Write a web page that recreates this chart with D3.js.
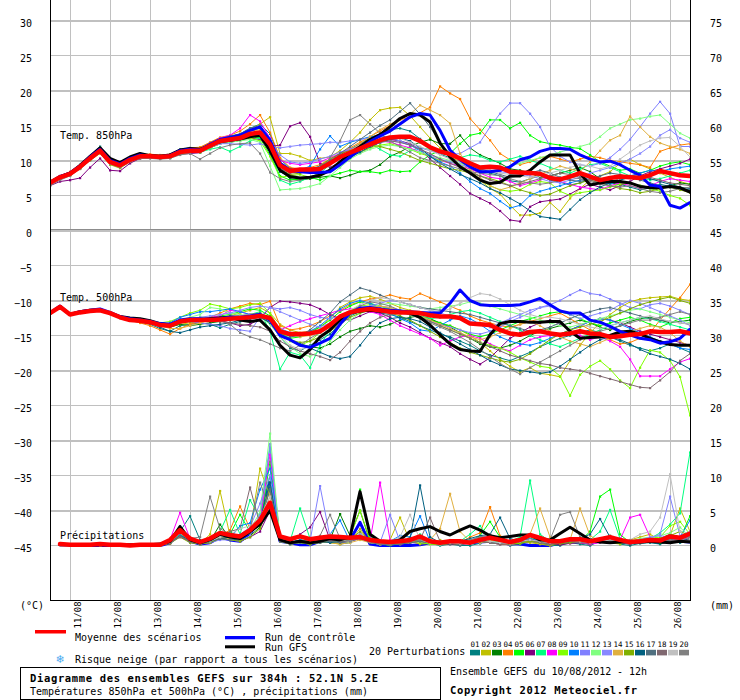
<!DOCTYPE html>
<html><head><meta charset="utf-8">
<script src="https://cdn.jsdelivr.net/npm/d3@7"></script>
<style>
body{margin:0;background:#fff}
svg{display:block}
text{font-family:'DejaVu Sans Mono','Liberation Mono',monospace;font-size:10px;fill:#000}
</style>
</head><body>
<svg id="c" width="740" height="700"></svg>
<script>
// ---------- labels ----------
const dayLabels = ["11/08","12/08","13/08","14/08","15/08","16/08","17/08","18/08","19/08","20/08","21/08","22/08","23/08","24/08","25/08","26/08"];
const leftTicks = [30,25,20,15,10,5,0,-5,-10,-15,-20,-25,-30,-35,-40,-45];
const rightTicks = [75,70,65,60,55,50,45,40,35,30,25,20,15,10,5,0];
const pertLabels = ["01","02","03","04","05","06","07","08","09","10","11","12","13","14","15","16","17","18","19","20"];
const pertColors = ["#008080","#c0c000","#008000","#ff8000","#00ff00","#800080","#00ff80","#ff00ff","#80ff00","#0080ff","#8080ff","#80ff80","#8888ff","#e0b040","#80b000","#006080","#507080","#806870","#c0c0c0","#808080"];
const stepHours = 6;

// ---------- Temp 850 hPa (°C), 6-hourly, 0..384h ----------
const t850_mean = [6.8,7.6,8.1,9.1,10.3,11.4,9.8,9.3,10.1,10.6, 10.6,10.5,10.6,11.2,11.4,11.4,12.1,12.8,13.0,13.2, 13.8,14.0,12.3,9.3,8.5,8.7,8.7,8.8,9.6,10.5, 11.1,11.7,12.3,12.9,13.3,13.4,13.4,12.8,11.9,11.3, 10.9,10.3,9.6,9.0,9.1,9.0,8.4,8.3,8.2,8.1, 7.5,7.3,7.7,8.2,7.7,7.2,7.5,7.7,7.6,7.5, 7.9,8.5,8.2,7.9,7.8];
const t850_ctrl = [6.8,7.7,8.2,9.2,10.5,11.6,10.0,9.5,10.3,10.8, 10.6,10.5,10.7,11.4,11.6,11.5,12.3,13.0,13.3,13.6, 14.3,14.8,12.9,9.6,8.6,8.4,8.3,8.3,8.4,9.4, 10.5,11.6,12.7,13.5,14.2,15.2,16.2,16.7,16.5,14.3, 11.5,10.1,9.1,8.4,8.4,8.6,9.1,10.1,10.5,11.3, 11.7,11.7,11.6,10.8,10.2,9.8,9.9,9.4,8.6,7.9, 6.5,6.3,3.6,3.2,4.0];
const t850_gfs = [6.9,7.7,8.2,9.3,10.6,11.8,10.3,9.7,10.5,11.0, 10.7,10.6,10.8,11.5,11.7,11.6,12.2,12.7,12.9,13.1, 13.4,13.6,11.4,8.6,7.7,7.5,7.6,7.9,8.6,9.8, 11.0,12.0,13.0,13.7,14.8,16.0,16.7,16.5,15.5,12.5, 10.5,9.1,8.2,7.2,6.7,6.9,7.8,7.8,8.6,9.8, 10.8,10.8,10.8,8.2,6.5,6.8,7.0,7.0,6.8,6.3, 6.1,6.1,6.3,6.1,5.5];
const t850_p01 = [6.9,7.7,8.3,9.4,10.6,12.0,10.2,9.6,10.4,10.8, 10.7,10.6,10.9,11.6,11.8,11.7,12.5,13.2,13.4,13.8, 14.6,15.2,13.8,10.2,8.9,8.6,8.8,9.0,9.9,10.8, 11.6,12.4,13.2,13.8,14.4,14.6,14.2,13.1,11.8,10.9, 10.4,9.8,9.2,8.6,8.2,7.8,7.1,6.9,7.4,7.8, 7.2,6.9,6.5,6.8,7.4,7.0,6.8,6.6,6.2,5.8, 6.1,6.6,6.3,5.9,5.6];
const t850_p02 = [6.6,7.4,7.9,8.8,10.0,11.0,9.4,8.9,9.8,10.3, 10.4,10.3,10.5,11.0,11.2,11.3,12.0,12.9,13.3,13.6, 14.4,15.2,16.2,11.0,11.0,10.6,10.0,10.3,10.5,11.4, 12.6,14.0,15.8,17.2,17.5,17.6,16.4,14.8,13.2,11.8, 10.6,9.8,8.6,7.2,6.0,5.2,3.6,2.2,2.2,2.5, 4.0,2.7,4.6,6.0,7.2,7.8,8.4,9.6,10.2,9.4, 8.8,8.2,7.6,7.0,6.6];
const t850_p03 = [6.7,7.5,8.0,8.9,10.2,11.2,9.7,9.2,10.0,10.5, 10.5,10.4,10.5,11.0,11.2,11.2,11.8,12.4,12.6,12.9, 13.4,13.3,11.6,8.6,7.4,7.2,7.4,7.6,7.8,7.5, 7.9,8.4,8.6,9.4,10.6,11.2,12.0,12.6,13.0,12.4, 12.4,13.6,11.8,10.8,10.2,9.6,8.8,8.6,8.2,7.6, 7.8,8.2,8.6,9.0,8.4,7.4,6.8,6.6,6.8,6.4, 6.2,6.0,6.4,6.8,6.6];
const t850_p04 = [6.9,7.8,8.4,9.3,10.6,11.8,10.1,9.6,10.4,10.9, 10.9,10.8,10.9,11.5,11.8,11.9,12.6,13.3,13.6,14.2, 15.2,16.5,14.0,10.4,9.0,8.8,9.0,9.4,10.2,11.0, 11.8,12.6,13.4,14.2,15.0,15.8,16.2,16.8,17.6,20.6, 19.6,18.8,16.0,14.4,12.9,11.0,10.1,9.4,9.8,10.4, 10.6,10.2,9.8,10.2,10.6,10.4,10.0,9.8,9.6,9.4, 9.0,11.3,11.8,12.2,12.4];
const t850_p05 = [6.7,7.5,8.0,9.0,10.2,11.3,9.7,9.2,10.0,10.5, 10.5,10.4,10.5,11.1,11.3,11.3,12.0,12.6,12.8,13.0, 13.4,13.2,10.8,7.8,7.2,7.4,7.6,7.2,7.8,8.2, 8.6,8.4,8.4,8.2,8.6,8.4,8.5,9.8,10.8,11.4, 11.0,12.4,13.6,13.9,15.8,15.8,14.6,15.4,13.6,12.7, 12.4,12.2,11.9,11.7,10.8,9.8,9.2,8.6,8.8,8.2, 8.6,9.2,9.6,9.8,9.4];
const t850_p06 = [6.4,7.0,7.2,7.5,9.0,10.3,8.6,8.5,9.6,10.3, 10.4,10.3,10.4,10.9,11.0,11.1,11.8,12.4,12.6,12.9, 13.2,13.0,12.0,12.2,14.9,15.4,13.4,9.6,9.0,9.8, 10.6,11.2,11.8,12.6,13.0,12.8,12.4,11.6,10.2,9.0, 7.8,6.6,5.3,4.6,3.9,2.8,1.5,1.3,3.4,4.1, 4.3,4.5,5.2,6.0,6.6,6.2,5.8,6.4,7.0,7.8, 8.4,8.8,9.2,9.6,10.2];
const t850_p07 = [6.8,7.6,8.1,9.0,10.2,11.2,9.7,9.2,10.0,10.5, 10.5,10.4,10.5,11.1,11.3,11.2,11.6,11.9,11.3,12.0, 12.8,13.2,12.0,7.2,6.6,7.0,7.6,8.2,9.4,10.4, 11.0,11.8,12.4,11.6,10.8,10.6,11.4,11.8,11.6,11.0, 10.8,10.4,10.8,10.6,10.0,9.8,10.2,10.6,10.0,9.6, 9.0,8.6,8.2,8.8,9.4,9.6,9.0,8.4,7.8,7.6, 7.2,7.4,7.8,8.2,8.6];
const t850_p08 = [7.0,7.8,8.3,9.3,10.5,11.6,10.0,9.5,10.3,10.8, 10.8,10.7,10.8,11.4,11.6,11.6,12.4,13.2,13.6,14.6, 16.5,15.6,13.2,10.0,9.6,9.4,9.6,9.8,10.4,11.0, 11.6,12.0,12.4,12.8,12.6,12.2,11.8,11.2,10.6,10.0, 9.6,9.2,8.8,8.2,7.6,7.4,7.0,6.4,6.8,7.2, 7.6,7.0,6.6,6.2,6.0,5.8,6.4,6.8,6.4,6.0, 6.4,7.0,7.4,7.2,7.0];
const t850_p09 = [6.6,7.4,7.9,8.9,10.1,11.1,9.5,9.0,9.9,10.4, 10.4,10.3,10.4,11.0,11.2,11.2,11.8,12.5,12.8,13.0, 13.2,12.8,10.6,7.6,7.8,8.0,7.6,7.8,8.8,9.8, 10.6,11.2,11.8,12.2,12.4,12.0,11.6,11.0,10.6,10.0, 9.8,9.4,8.4,7.2,6.4,5.8,5.6,5.8,6.6,7.0, 6.8,5.6,5.0,5.4,5.6,5.8,6.2,6.6,6.8,6.4, 6.0,5.6,5.0,4.6,3.6];
const t850_p10 = [6.8,7.6,8.2,9.2,10.4,11.5,9.9,9.4,10.2,10.7, 10.7,10.6,10.7,11.3,11.5,11.5,12.3,13.0,13.3,13.6, 14.2,14.6,11.0,8.8,8.4,8.6,9.2,11.6,13.5,12.0, 12.6,13.0,13.4,13.6,13.2,12.8,12.2,11.4,10.6,9.8, 9.2,8.2,7.0,6.0,5.3,4.2,3.2,3.6,5.0,5.6, 6.0,6.4,6.8,7.2,7.6,7.0,6.6,7.2,7.8,8.2, 8.6,8.4,8.8,9.0,9.2];
const t850_p11 = [6.9,7.7,8.2,9.2,10.4,11.4,9.9,9.4,10.2,10.6, 10.6,10.5,10.6,11.2,11.4,11.4,12.1,12.6,12.8,13.0, 13.6,13.8,12.6,10.8,9.8,9.6,9.8,10.2,10.6,11.2, 11.6,12.0,12.2,12.6,12.8,12.6,12.2,11.8,11.4,11.0, 10.8,11.0,11.8,12.6,14.8,16.7,18.2,18.2,16.7,14.8, 12.0,10.6,9.8,9.4,9.2,9.6,10.4,11.6,13.0,14.8, 16.7,18.4,16.7,12.0,12.0];
const t850_p12 = [6.7,7.5,8.0,9.0,10.2,11.2,9.6,9.1,9.9,10.4, 10.4,10.3,10.4,11.0,11.2,11.2,11.8,12.4,12.6,12.8, 13.0,12.6,9.2,5.8,5.9,6.0,6.3,6.7,7.8,9.0, 10.2,11.0,11.6,12.0,12.2,12.0,11.6,11.2,10.8,10.4, 10.0,9.6,9.2,8.8,8.4,8.8,9.2,9.6,10.0,10.4, 10.8,11.2,11.6,12.0,12.4,13.4,14.6,15.2,15.8,16.0, 16.3,16.5,15.2,13.9,13.2];
const t850_p13 = [6.8,7.6,8.1,9.1,10.3,11.3,9.8,9.3,10.1,10.5, 10.5,10.4,10.5,11.1,11.3,11.3,11.9,12.4,12.4,12.3, 12.2,12.4,12.0,11.8,12.0,12.2,12.3,12.4,12.6,12.6, 12.8,13.0,13.2,13.4,13.2,12.8,12.2,11.6,10.8,10.2, 9.8,9.4,9.0,8.8,8.6,8.4,8.2,8.0,7.8,7.4, 7.0,6.8,7.2,7.6,8.2,8.6,9.0,9.6,10.2,11.0, 12.0,13.6,14.4,13.2,12.6];
const t850_p14 = [6.9,7.7,8.2,9.2,10.4,11.5,9.9,9.4,10.2,10.7, 10.7,10.6,10.7,11.3,11.5,11.5,12.2,12.9,13.2,13.5, 14.2,14.4,12.4,9.4,8.6,8.4,8.6,8.8,9.4,10.4, 11.4,12.4,13.4,14.4,15.2,15.8,16.6,17.9,17.2,16.5, 15.3,11.0,8.8,7.6,6.4,5.8,6.2,6.8,7.4,8.0, 8.6,9.2,8.8,8.4,9.8,11.4,12.9,13.6,16.3,14.8, 13.4,12.5,12.0,11.6,11.0];
const t850_p15 = [6.6,7.4,7.9,8.9,10.1,11.1,9.5,9.0,9.9,10.4, 10.4,10.3,10.4,11.0,11.2,11.2,11.9,12.6,12.9,13.1, 13.6,13.6,11.8,8.8,8.0,8.2,8.6,9.2,10.2,11.0, 11.4,11.8,12.2,12.0,11.6,11.2,10.6,10.0,9.6,9.2, 8.8,8.6,8.2,7.8,7.4,7.0,6.4,5.8,5.4,5.0, 5.2,5.8,6.4,6.8,7.2,6.8,6.4,6.0,5.8,5.4, 5.6,6.0,6.2,5.8,5.4];
const t850_p16 = [6.8,7.6,8.1,9.1,10.3,11.4,9.8,9.3,10.1,10.6, 10.6,10.5,10.6,11.2,11.4,11.4,12.0,12.6,12.8,13.0, 13.4,13.6,11.2,8.4,7.6,7.4,7.6,8.0,8.8,9.6, 10.4,11.2,12.0,12.6,13.0,13.2,12.8,11.8,10.6,9.6, 8.8,8.0,7.4,6.8,6.0,5.4,4.6,3.8,2.8,2.0, 1.8,1.6,3.0,4.4,5.4,6.2,6.8,7.2,7.6,7.8, 7.4,7.0,6.6,6.2,6.0];
const t850_p17 = [6.9,7.8,8.3,9.3,10.5,11.7,10.1,9.6,10.4,10.8, 10.8,10.7,10.8,11.4,11.6,11.6,12.4,13.1,13.5,13.8, 14.6,15.0,12.8,9.8,8.8,8.6,8.8,9.2,10.0,11.0, 12.0,13.0,14.0,15.0,15.8,17.0,18.2,16.6,14.8,12.6, 11.0,10.2,9.4,8.8,8.4,8.0,7.6,7.8,8.2,8.6, 8.2,7.6,7.2,7.0,7.4,7.8,8.2,8.0,7.6,7.2, 6.8,6.4,6.2,6.0,5.8];
const t850_p18 = [6.7,7.5,8.0,9.0,10.2,11.3,9.7,9.2,10.0,10.5, 10.5,10.4,10.5,11.1,11.3,11.3,12.0,12.6,12.9,13.1, 13.6,13.8,11.6,8.8,8.2,8.4,8.6,9.0,9.8,10.6, 11.2,11.8,12.2,12.6,12.8,12.6,12.2,11.6,11.0,10.2, 9.6,9.0,8.4,7.8,7.2,6.8,6.4,6.6,7.0,7.4, 7.8,8.2,8.0,7.6,7.2,6.8,7.0,7.4,7.8,8.0, 7.6,7.2,6.8,6.6,6.4];
const t850_p19 = [6.8,7.6,8.1,9.1,10.3,11.4,9.8,9.3,10.1,10.6, 10.6,10.5,10.6,11.2,11.4,11.4,12.1,12.8,13.1,13.4, 13.9,14.2,12.2,9.0,8.4,8.6,8.8,9.0,9.6,10.4, 11.2,11.8,12.4,13.0,13.4,13.2,12.6,12.0,11.4,10.8, 10.2,9.8,9.4,9.0,8.6,8.2,8.0,7.8,7.6,7.8, 8.2,8.6,9.0,9.4,9.2,8.8,9.2,10.2,11.2,12.2, 12.8,13.2,13.3,12.0,10.5];
const t850_p20 = [6.4,7.2,7.8,8.8,10.0,11.1,9.5,9.0,9.8,10.3, 10.3,10.2,10.3,10.8,11.0,10.2,11.0,11.8,12.2,12.4, 12.5,11.0,8.3,7.4,7.0,7.2,7.6,8.2,10.4,12.8, 15.8,16.5,15.2,13.9,12.8,12.0,11.2,10.4,10.0,9.6, 9.2,8.8,8.4,8.2,8.0,7.8,7.4,7.0,6.8,6.6, 6.8,7.2,7.6,7.4,7.0,6.6,6.4,6.2,6.4,6.0, 5.6,5.4,5.6,6.0,6.2];

// ---------- Temp 500 hPa (°C) ----------
const t500_mean = [-11.8,-10.9,-12.0,-11.7,-11.5,-11.4,-11.8,-12.4,-12.8,-12.9, -13.1,-13.5,-13.6,-13.0,-12.8,-12.8,-12.8,-12.7,-12.6,-12.5, -12.4,-12.2,-12.5,-14.4,-14.8,-14.8,-14.7,-14.4,-13.5,-12.3, -11.7,-11.4,-11.2,-11.4,-11.6,-11.7,-11.7,-11.8,-12.1,-12.3, -12.3,-12.5,-13.3,-13.4,-13.5,-14.2,-14.7,-14.9,-14.5,-14.4, -14.7,-14.9,-14.7,-14.4,-14.7,-14.8,-15.2,-15.1,-14.9,-14.8, -14.4,-14.5,-14.5,-14.4,-14.7];
const t500_ctrl = [-11.8,-10.8,-12.0,-11.6,-11.4,-11.2,-11.7,-12.3,-12.6,-12.8, -13.0,-13.3,-13.4,-12.8,-12.6,-12.6,-12.7,-12.6,-12.4,-12.4, -12.2,-12.0,-12.8,-15.0,-15.6,-16.4,-16.7,-16.1,-15.4,-13.4, -11.8,-11.1,-11.0,-11.2,-11.4,-11.5,-11.6,-11.7,-11.8,-11.8, -10.4,-8.5,-10.0,-10.6,-10.7,-10.7,-10.7,-10.6,-10.2,-9.7, -10.6,-11.5,-11.8,-11.8,-12.8,-13.1,-13.7,-14.4,-14.9,-15.4, -15.6,-16.1,-15.9,-15.4,-14.1];
const t500_gfs = [-11.8,-10.9,-12.0,-11.6,-11.4,-11.3,-11.8,-12.3,-12.5,-12.6, -12.9,-13.3,-13.5,-13.0,-12.8,-12.8,-12.6,-12.5,-12.4,-12.8, -13.0,-12.8,-14.2,-16.4,-17.8,-18.2,-17.0,-15.2,-14.2,-12.8, -11.8,-11.5,-11.4,-11.5,-11.6,-11.6,-11.8,-12.4,-13.5,-14.9, -16.2,-17.0,-17.2,-17.3,-14.9,-13.3,-13.0,-13.0,-13.1,-13.1, -13.0,-13.0,-14.4,-15.4,-15.3,-15.2,-15.0,-14.5,-14.4,-14.8, -15.4,-15.9,-16.3,-16.4,-16.4];
const t500_p01 = [-11.8,-10.9,-12.0,-11.7,-11.5,-11.4,-11.9,-12.5,-12.9,-13.1, -13.4,-14.0,-14.4,-13.6,-13.4,-13.2,-13.4,-13.9,-13.4,-13.0, -12.6,-12.4,-13.0,-15.2,-16.8,-17.2,-16.4,-15.6,-14.8,-13.4, -12.2,-11.6,-11.4,-11.8,-12.0,-12.4,-13.0,-13.6,-14.2,-14.8, -15.2,-15.8,-16.4,-17.2,-17.8,-18.2,-18.6,-18.0,-17.4,-16.6, -16.0,-15.4,-15.0,-14.6,-14.2,-14.6,-15.2,-15.8,-16.4,-16.8, -17.2,-16.8,-16.2,-16.8,-17.4];
const t500_p02 = [-11.8,-10.9,-12.0,-11.7,-11.5,-11.3,-11.7,-12.4,-12.8,-12.9, -13.0,-13.4,-13.8,-13.4,-13.2,-13.0,-12.6,-12.4,-12.2,-11.8, -11.4,-11.0,-11.8,-13.4,-14.2,-14.6,-14.4,-13.8,-12.6,-11.0, -10.2,-9.6,-9.4,-9.8,-10.4,-11.0,-11.4,-11.8,-12.6,-13.4, -13.6,-14.2,-15.0,-16.0,-17.2,-18.4,-19.4,-20.2,-19.6,-20.4, -20.6,-20.9,-18.6,-16.4,-14.6,-13.2,-12.0,-11.0,-10.2,-9.8, -9.6,-9.5,-9.4,-9.8,-10.0];
const t500_p03 = [-11.8,-10.9,-12.0,-11.7,-11.5,-11.4,-11.8,-12.4,-12.8,-12.9, -13.1,-13.6,-13.8,-13.4,-13.6,-13.4,-13.2,-13.0,-12.8,-12.6, -12.4,-12.2,-13.2,-14.8,-15.6,-16.2,-16.6,-16.8,-16.2,-15.2, -14.4,-14.0,-13.6,-13.8,-13.4,-12.8,-12.4,-12.2,-12.6,-13.2, -13.8,-14.6,-15.4,-16.2,-16.6,-16.8,-16.4,-15.8,-15.0,-14.4, -14.0,-13.6,-13.2,-12.8,-13.2,-13.8,-14.2,-13.6,-13.0,-12.6, -12.4,-12.8,-13.2,-13.0,-12.8];
const t500_p04 = [-11.8,-10.9,-12.0,-11.7,-11.5,-11.4,-11.8,-12.4,-12.8,-13.2, -13.6,-14.2,-14.8,-14.0,-13.4,-13.0,-12.4,-11.8,-11.2,-10.8, -10.4,-10.6,-10.1,-13.6,-14.2,-14.0,-13.6,-13.0,-12.2,-11.4, -10.6,-10.2,-9.8,-9.6,-9.2,-9.6,-9.8,-9.0,-9.6,-10.2, -10.8,-11.4,-12.2,-12.8,-13.2,-13.6,-13.8,-13.4,-13.0,-12.6, -12.2,-11.8,-12.6,-13.4,-14.2,-15.0,-15.6,-16.2,-16.0,-15.4, -14.6,-12.8,-11.2,-9.6,-7.7];
const t500_p05 = [-11.8,-10.9,-12.0,-11.7,-11.5,-11.4,-11.8,-12.4,-12.8,-12.9, -13.1,-13.4,-13.4,-12.8,-12.6,-12.4,-12.4,-12.2,-12.0,-11.6, -11.2,-11.4,-12.2,-14.6,-15.4,-15.2,-14.6,-13.8,-12.8,-11.6, -10.8,-10.2,-10.4,-10.8,-11.2,-11.6,-12.0,-12.4,-12.8,-13.2, -13.6,-14.2,-14.8,-15.2,-14.8,-14.2,-13.6,-13.0,-12.6,-12.2, -11.8,-11.6,-12.0,-12.6,-13.2,-13.6,-13.2,-12.8,-12.4,-12.8, -13.4,-13.8,-13.2,-12.6,-12.4];
const t500_p06 = [-11.8,-10.9,-12.0,-11.7,-11.5,-11.4,-11.8,-12.4,-12.8,-12.9, -13.1,-13.5,-13.6,-13.0,-12.8,-12.8,-12.8,-12.9,-13.2,-13.6, -13.4,-12.6,-11.0,-10.1,-10.2,-10.4,-10.6,-11.2,-12.0,-12.6, -12.8,-12.2,-11.6,-11.8,-12.4,-13.2,-13.8,-14.6,-15.4,-16.0, -16.6,-17.6,-18.4,-19.1,-18.2,-16.8,-15.4,-14.6,-13.8,-13.2, -12.8,-13.4,-14.2,-13.6,-13.0,-12.6,-12.8,-13.2,-13.8,-14.4, -14.8,-15.2,-15.6,-16.0,-16.4];
const t500_p07 = [-11.8,-10.9,-12.0,-11.7,-11.5,-11.4,-11.8,-12.4,-12.8,-12.9, -13.0,-13.3,-13.4,-12.8,-12.6,-12.6,-12.8,-12.6,-12.4,-12.2, -12.0,-11.6,-14.4,-19.8,-17.4,-17.8,-19.6,-16.4,-14.2,-12.8, -11.8,-11.2,-11.0,-11.2,-11.4,-11.6,-11.8,-12.2,-12.6,-12.4, -12.0,-11.6,-11.4,-11.8,-12.4,-13.0,-13.6,-14.2,-15.0,-15.6, -16.2,-16.6,-16.0,-15.4,-14.8,-14.2,-13.6,-13.2,-12.8,-12.4, -12.6,-13.0,-13.4,-13.8,-14.2];
const t500_p08 = [-11.8,-10.9,-12.0,-11.7,-11.5,-11.4,-11.8,-12.4,-12.8,-12.9, -13.1,-13.4,-13.5,-12.9,-12.6,-12.6,-12.4,-12.2,-11.4,-11.6, -12.0,-12.2,-13.0,-14.2,-13.6,-13.0,-12.6,-12.2,-11.8,-11.4, -11.2,-11.4,-11.6,-12.0,-12.8,-13.6,-14.2,-14.8,-15.4,-16.4, -15.8,-15.2,-15.0,-15.4,-16.2,-16.8,-17.2,-16.4,-15.6,-15.2, -15.0,-14.8,-14.6,-15.0,-15.6,-15.2,-15.8,-16.6,-18.4,-20.8, -20.8,-20.8,-19.8,-18.8,-18.3];
const t500_p09 = [-11.8,-10.9,-12.0,-11.7,-11.5,-11.4,-11.8,-12.4,-12.8,-12.9, -13.0,-13.2,-13.0,-12.4,-11.8,-11.4,-10.5,-10.8,-11.2,-11.0, -10.6,-10.4,-11.8,-14.2,-15.8,-16.4,-15.8,-14.6,-13.4,-12.2, -11.4,-10.8,-10.6,-10.8,-11.2,-11.6,-12.0,-12.4,-13.0,-13.6, -14.2,-14.8,-15.4,-16.0,-16.4,-16.8,-17.4,-18.2,-18.8,-19.4, -19.6,-20.8,-23.6,-20.6,-19.4,-18.6,-19.8,-21.4,-22.5,-19.6, -17.1,-17.4,-18.6,-20.9,-26.4];
const t500_p10 = [-11.8,-10.9,-12.0,-11.7,-11.5,-11.4,-11.8,-12.4,-12.8,-12.9, -13.1,-13.4,-13.2,-12.4,-12.0,-11.6,-11.6,-11.4,-11.2,-11.6, -12.0,-12.2,-12.8,-14.0,-14.6,-14.8,-14.4,-13.6,-12.4,-11.2, -10.4,-10.0,-10.4,-11.0,-11.8,-12.6,-13.2,-14.2,-14.4,-13.6, -12.8,-12.2,-12.6,-13.4,-14.4,-15.2,-15.8,-16.2,-16.4,-16.0, -15.4,-14.8,-14.2,-13.6,-13.0,-12.6,-12.8,-13.4,-14.0,-14.6, -15.2,-15.8,-16.2,-16.8,-17.0];
const t500_p11 = [-11.8,-10.9,-12.0,-11.7,-11.5,-11.4,-11.8,-12.4,-12.8,-12.9, -13.1,-13.4,-13.6,-13.2,-13.0,-13.2,-13.4,-13.6,-14.0,-14.2, -14.4,-12.4,-11.0,-11.2,-11.0,-11.4,-12.0,-12.4,-12.6,-12.2, -11.8,-11.4,-11.0,-10.8,-11.0,-11.4,-11.8,-12.4,-13.0,-13.4, -13.8,-14.2,-14.6,-14.8,-14.4,-13.8,-13.0,-12.4,-11.8,-11.0, -10.6,-10.0,-9.2,-8.5,-9.0,-9.2,-9.8,-10.4,-11.0,-11.2, -10.6,-10.4,-10.8,-11.4,-12.0];
const t500_p12 = [-11.8,-10.9,-12.0,-11.7,-11.5,-11.4,-11.8,-12.4,-12.8,-12.9, -13.1,-13.4,-13.4,-12.8,-12.4,-12.0,-11.0,-11.2,-11.8,-12.0, -12.2,-12.4,-13.4,-15.2,-16.6,-17.6,-18.0,-17.2,-15.8,-14.2, -12.8,-11.8,-11.0,-10.6,-10.4,-10.6,-10.8,-11.0,-11.2,-11.0, -10.8,-10.6,-10.2,-10.4,-10.8,-11.2,-11.6,-12.0,-12.4,-12.8, -13.2,-13.6,-13.8,-13.4,-13.0,-12.6,-12.2,-11.8,-11.4,-11.2, -11.6,-12.0,-12.4,-12.8,-13.2];
const t500_p13 = [-11.8,-10.9,-12.0,-11.7,-11.5,-11.4,-11.8,-12.4,-12.8,-12.9, -13.2,-13.6,-13.4,-12.8,-12.6,-12.4,-12.2,-12.0,-11.8,-11.4, -11.0,-10.8,-11.0,-11.6,-12.2,-12.8,-13.4,-13.8,-13.2,-12.4, -11.6,-11.0,-10.8,-10.4,-10.0,-10.2,-10.6,-11.0,-11.4,-11.8, -12.2,-12.6,-13.0,-13.4,-13.8,-13.2,-12.6,-12.0,-11.4,-11.0, -10.8,-11.4,-12.0,-12.6,-12.2,-11.8,-11.4,-10.6,-10.0,-10.4, -11.0,-11.6,-12.2,-12.8,-13.6];
const t500_p14 = [-11.8,-10.9,-12.0,-11.7,-11.5,-11.4,-11.8,-12.4,-12.8,-12.9, -13.1,-13.6,-14.0,-14.0,-13.6,-13.2,-12.8,-12.6,-12.4,-12.2, -12.0,-11.8,-12.4,-14.0,-14.8,-15.2,-15.0,-14.6,-13.8,-12.8, -12.0,-11.4,-11.0,-10.8,-11.0,-11.4,-11.8,-12.2,-12.8,-13.4, -14.0,-14.6,-15.2,-15.6,-15.2,-14.6,-14.0,-13.4,-13.0,-13.6, -14.4,-15.2,-15.8,-16.2,-16.6,-16.0,-15.4,-14.8,-14.4,-14.0, -13.6,-13.8,-14.6,-15.8,-16.6];
const t500_p15 = [-11.8,-10.9,-12.0,-11.7,-11.5,-11.4,-11.8,-12.4,-12.8,-12.9, -13.1,-13.4,-13.6,-13.2,-13.0,-12.8,-12.8,-12.8,-12.6,-12.6, -12.4,-12.2,-13.0,-14.6,-15.6,-16.0,-15.8,-15.2,-14.4,-13.4, -12.4,-11.8,-11.4,-11.4,-11.8,-12.2,-12.8,-13.6,-14.4,-15.2, -16.0,-16.8,-17.4,-17.8,-18.2,-18.6,-18.8,-18.4,-17.6,-16.6, -15.6,-14.8,-14.2,-13.8,-13.4,-13.0,-12.4,-11.8,-11.2,-10.6, -10.2,-9.8,-9.5,-10.0,-10.4];
const t500_p16 = [-11.8,-10.9,-12.0,-11.7,-11.5,-11.4,-11.8,-12.4,-12.8,-12.9, -13.2,-13.8,-14.4,-14.6,-14.2,-13.8,-13.6,-13.4,-13.2,-12.8, -12.6,-12.4,-13.2,-14.8,-15.6,-16.2,-16.8,-17.4,-18.0,-18.3, -18.0,-16.4,-14.6,-13.2,-12.6,-12.4,-12.6,-13.0,-13.8,-14.6, -15.4,-16.2,-17.0,-17.8,-18.6,-19.2,-19.8,-20.0,-20.2,-20.4, -20.2,-19.4,-18.4,-17.4,-16.4,-15.6,-15.2,-15.6,-16.2,-17.0, -17.6,-18.0,-18.4,-19.0,-19.8];
const t500_p17 = [-11.8,-10.9,-12.0,-11.7,-11.5,-11.4,-11.8,-12.4,-12.8,-12.9, -13.0,-13.3,-13.4,-12.8,-12.6,-12.6,-12.6,-12.4,-12.2,-12.2, -12.0,-11.8,-12.6,-14.4,-15.2,-15.0,-14.2,-13.0,-11.8,-10.2, -9.2,-8.2,-8.6,-9.2,-9.8,-10.2,-10.6,-11.0,-11.2,-11.4, -11.6,-11.8,-12.0,-12.4,-12.8,-13.2,-13.6,-14.0,-14.4,-14.2, -13.8,-13.2,-12.6,-12.0,-11.6,-11.2,-11.0,-11.4,-11.8,-12.2, -12.6,-12.8,-13.0,-13.2,-13.4];
const t500_p18 = [-11.8,-10.9,-12.0,-11.7,-11.5,-11.4,-11.8,-12.4,-12.8,-12.9, -13.1,-13.4,-13.4,-12.8,-12.6,-12.6,-12.8,-13.0,-13.2,-13.4, -13.6,-13.8,-14.4,-15.8,-16.6,-17.2,-17.6,-18.0,-18.5,-17.4, -15.8,-14.4,-13.2,-12.4,-12.0,-11.8,-12.0,-12.4,-13.0,-13.6, -14.2,-14.8,-15.4,-16.0,-16.6,-17.2,-17.8,-18.2,-18.6,-19.0, -19.2,-19.6,-19.8,-20.0,-20.4,-20.8,-21.2,-21.6,-22.0,-22.4, -22.5,-21.4,-20.2,-18.6,-17.6];
const t500_p19 = [-11.8,-10.9,-12.0,-11.7,-11.5,-11.4,-11.8,-12.4,-12.8,-12.9, -13.1,-13.5,-13.6,-13.0,-12.8,-12.8,-12.8,-12.6,-12.4,-12.2, -12.0,-12.2,-13.0,-15.0,-16.4,-17.0,-16.6,-15.4,-14.0,-12.6, -11.4,-10.6,-10.0,-9.6,-9.8,-10.2,-10.6,-11.0,-11.4,-11.6, -11.2,-10.4,-9.6,-9.0,-9.2,-9.8,-10.6,-11.4,-12.0,-12.4, -12.4,-12.6,-13.0,-13.4,-13.8,-14.0,-13.6,-13.2,-12.8,-12.4, -12.2,-12.6,-13.0,-13.2,-13.4];
const t500_p20 = [-11.8,-10.9,-12.0,-11.7,-11.5,-11.4,-11.8,-12.4,-12.8,-12.9, -13.1,-13.5,-13.6,-13.1,-12.9,-12.8,-12.8,-12.9,-13.4,-14.6, -15.2,-15.6,-16.2,-16.8,-17.2,-16.4,-15.4,-14.6,-13.6,-12.6, -11.6,-10.8,-10.2,-10.4,-10.8,-11.4,-12.0,-12.6,-13.2,-13.8, -14.4,-15.2,-16.0,-17.0,-18.0,-19.0,-19.8,-20.5,-19.6,-18.8, -18.0,-17.2,-16.4,-15.6,-15.0,-14.4,-14.0,-13.6,-13.2,-12.8, -12.8,-12.4,-12.0,-11.6,-12.0];

// ---------- Precipitation (mm / 6h), right axis ----------
const pr_mean = [null,0.2,0.1,0.1,0.1,0.2,0.1,0.1,0.0,0.1, 0.1,0.1,0.8,2.2,1.0,0.5,1.0,1.8,1.5,1.3, 2.2,3.6,6.1,1.3,0.9,1.3,0.9,1.1,1.3,1.2, 1.1,1.2,0.8,0.6,0.5,0.6,0.8,1.3,0.6,0.4, 0.6,0.6,0.4,0.8,1.1,0.8,0.5,0.8,1.5,1.1, 0.6,0.6,0.9,0.9,0.6,0.9,1.2,0.8,0.5,0.6, 0.8,0.7,1.3,1.1,1.7];
const pr_ctrl = [null,0.1,0.1,0,0,0,0,0,0,0, 0,0,0.4,1.8,0.6,0.2,0.4,1.2,0.8,0.6, 1.6,4.0,9.0,0.6,0.4,0.1,0.1,0.6,0.8,0.5, 0.8,3.3,0.2,0,0,0,0,0.1,0.4,0.3, 0.4,0.6,0.4,0.5,0.6,0.4,0.3,0.2,0,0, 0,0.4,0.6,0.5,0.4,0.6,0.8,0.6,0.4,0.5, 0.6,0.4,0.8,0.6,0.5];
const pr_gfs = [null,0.1,0.1,0.1,0.1,0.1,0.1,0.1,0.1,0.1, 0.1,0.2,0.6,2.7,0.8,0.4,0.8,1.6,1.2,1.0, 2.0,3.0,5.0,0.8,0.4,0.6,0.4,0.6,1.0,0.8, 1.2,7.7,1.6,0.6,0.5,0.8,2.0,2.4,2.7,2.0, 1.5,2.2,2.8,2.2,1.4,1.1,1.3,1.5,1.5,0.8, 0.8,1.7,2.6,1.7,0.8,0.5,0.4,0.5,0.6,0.5, 0.6,0.5,0.4,0.6,0.5];
const pr_p01 = [null,0.2,0.1,0,0,0,0,0,0,0, 0,0,0.5,2.0,4.2,0.8,0.4,1.2,2.0,1.0, 1.8,4.0,10.0,1.0,0.3,0.6,0.4,1.0,0.6,0.2, 0.4,1.6,0.5,0.2,0,0.3,0.6,0.8,0.3,0, 0.2,0,0,0.3,0.8,0.4,0,0.2,0.6,0.3, 0,0,0.4,0.2,0,0.6,0.8,0.2,0,0.3, 0.4,0.2,0.6,0.4,0.8];
const pr_p02 = [null,0.2,0,0,0,0,0,0,0,0, 0,0,0.6,1.5,0.6,0.2,1.6,7.8,1.4,0.8, 2.0,11.0,7.0,0.6,0.2,0.4,0.2,0.6,0.4,0.2, 0.6,2.4,0.4,0.2,0.8,4.0,0.6,0.2,0.3,0.8, 0.4,0.2,0.6,1.0,0.4,0.2,0.3,0.6,0.4,0.2, 0,0.3,0.6,0.4,0.2,0.6,0.4,0.2,0.8,1.2, 1.6,0.8,1.4,5.3,2.0];
const pr_p03 = [null,0.1,0,0,0,0,0,0,0,0, 0,0,0.4,1.8,0.6,0.2,0.6,3.0,1.0,0.6, 1.4,2.6,6.0,1.2,0.4,0.8,0.6,0.4,0.8,4.5, 1.4,5.0,0.6,0.2,0.1,0.3,0.8,1.4,0.6,0.4, 0.6,0.2,0.4,1.2,0.8,0.4,0.2,0.4,1.0,0.8, 0.4,0.2,0.6,0.4,0.2,1.0,1.4,0.4,0.2,0.6, 0.8,1.0,1.6,1.2,1.8];
const pr_p04 = [null,0.2,0.1,0,0,0,0,0,0,0, 0,0,0.8,2.4,0.8,0.4,0.6,1.4,2.2,5.6, 2.4,3.6,8.0,0.8,0.3,0.6,0.4,0.6,0.8,0.6, 0.8,1.2,0.6,0.3,0.2,0.4,0.8,1.2,0.8,0.4, 0.6,0.4,1.2,1.8,5.5,1.4,0.4,0.6,1.0,0.6, 0.4,0.6,0.8,0.6,0.4,0.8,1.0,0.6,0.4,0.6, 0.8,0.6,1.0,0.8,1.2];
const pr_p05 = [null,0.1,0,0,0,0,0,0,0,0, 0,0,0.4,1.6,0.6,0.2,0.6,1.2,1.6,4.4, 2.0,3.0,12.0,0.8,0.2,0.6,0.4,0.8,0.6,0.4, 1.0,8.0,1.2,0.4,0.2,0.4,0.6,0.8,0.4,0.2, 0.4,0.2,0.6,1.4,3.4,1.2,0.4,0.6,1.2,0.8, 0.4,0.6,1.0,0.6,2.0,7.0,8.0,1.6,0.4,0.6, 0.6,0.4,0.8,1.0,4.2];
const pr_p06 = [null,0.1,0,0,0,0,0,0,0,0, 0,0,0.3,1.4,0.6,0.2,0.4,1.0,0.8,0.6, 1.2,2.0,5.0,0.6,0.4,1.6,2.6,4.8,0.8,0.4, 0.6,1.2,0.4,0.2,0.1,0.2,0.4,0.6,0.3,0.1, 0.2,0.1,0.3,0.6,0.4,0.2,0.1,0.3,0.6,0.4, 0.2,0.1,0.3,0.4,0.2,0.6,0.8,0.4,0.2,0.6, 0.8,0.6,1.0,0.8,1.4];
const pr_p07 = [null,0.1,0,0,0,0,0,0,0,0, 0,0,0.6,1.6,0.8,0.4,1.0,2.0,5.1,1.6, 6.5,4.0,14.0,1.0,0.6,5.3,1.0,0.6,0.4,0.8, 0.6,1.4,0.4,0.2,0.1,0.4,0.8,1.6,0.6,0.2, 0.4,0.6,1.6,2.8,1.0,0.4,0.6,1.2,9.3,1.6, 0.6,0.4,0.8,1.2,0.8,2.0,5.1,1.0,0.4,0.6, 1.0,1.8,3.0,4.6,13.3];
const pr_p08 = [null,0.2,0.1,0,0,0,0,0,0,0, 0,0,0.8,4.7,1.0,0.4,0.8,1.6,1.2,1.4, 2.4,3.4,13.0,1.0,0.4,0.6,0.4,0.8,0.6,0.4, 0.6,1.0,0.6,9.0,0.8,0.2,0.4,0.6,0.4,0.2, 0.4,0.2,0.6,0.8,0.4,0.2,0.1,0.4,0.6,0.4, 0.2,0.4,0.6,0.4,0.2,0.4,0.6,0.8,4.0,4.4, 1.2,0.8,1.0,0.6,1.2];
const pr_p09 = [null,0.1,0,0,0,0,0,0,0,0, 0,0,0.4,1.6,0.8,0.4,0.6,1.4,1.8,1.2, 2.2,3.2,9.0,0.8,0.3,0.4,0.2,0.6,0.4,0.6, 1.2,5.0,0.8,0.2,0.4,0.6,0.8,0.4,0.2,0.1, 0.3,0.2,0.4,0.6,0.8,0.4,0.2,0.3,0.6,0.4, 0.2,0.3,0.6,0.8,0.4,0.6,0.4,0.3,0.6,0.8, 1.0,1.2,2.8,3.4,1.6];
const pr_p10 = [null,0.1,0,0,0,0,0,0,0,0, 0,0,0.6,1.6,0.6,0.4,0.8,1.4,1.0,2.8, 3.2,8.0,11.0,1.2,0.4,0.8,0.6,0.8,1.6,3.6, 0.6,1.0,0.4,0.2,0.6,1.4,1.2,4.2,0.6,0.2, 0.4,0.2,0.6,0.8,0.6,0.4,0.2,0.6,1.0,0.6, 0.4,0.6,0.8,0.6,0.4,0.6,0.8,0.6,0.4,0.8, 1.0,0.8,1.4,1.2,3.6];
const pr_p11 = [null,0.1,0,0,0,0,0,0,0,0, 0,0,0.8,2.6,0.6,0.2,0.4,0.8,0.8,0.6, 1.4,4.4,14.5,0.8,0.2,0.4,0.6,8.5,1.2,0.4, 0.8,1.2,0.6,0.4,4.4,0.6,0.4,0.8,0.4,0.2, 0.4,0.2,0.4,0.6,0.4,0.2,0.4,0.6,0.8,0.4, 0.2,0.4,0.6,0.4,0.8,0.6,0.4,0.6,0.4,0.8, 1.0,1.6,7.0,1.4,2.0];
const pr_p12 = [null,0.1,0,0,0,0,0,0,0,0, 0,0,0.4,1.8,0.8,0.2,0.6,1.2,1.0,1.4, 2.2,4.8,16.0,1.0,0.4,0.6,0.4,0.6,0.4,0.6, 0.4,1.6,0.4,0.2,0.1,0.3,0.6,0.8,0.4,0.2, 0.4,0.6,0.8,1.0,0.6,0.4,0.6,0.8,1.2,0.8, 0.4,0.6,0.8,0.6,0.4,0.6,0.8,0.4,0.6,1.0, 1.2,1.4,1.8,2.6,1.2];
const pr_p13 = [null,0.1,0,0,0,0,0,0,0,0, 0,0,0.6,2.8,0.8,0.4,0.6,1.0,1.4,1.6, 2.6,6.0,10.0,0.6,0.2,0.4,0.6,0.8,0.6,0.4, 0.6,1.8,0.4,0.2,0.4,0.6,0.8,1.2,0.6,0.4, 0.8,0.6,0.8,1.2,1.4,0.6,0.4,0.6,0.8,0.6, 0.4,0.6,0.8,1.0,0.6,0.8,1.2,1.0,0.6,0.8, 1.2,1.4,1.2,1.0,1.6];
const pr_p14 = [null,0.1,0,0,0,0,0,0,0,0, 0,0,0.4,1.4,0.6,0.2,0.6,1.2,1.0,1.2, 1.8,3.4,7.0,0.8,0.3,0.6,0.4,0.6,0.4,0.2, 0.4,0.8,0.4,0.2,0.1,0.3,0.4,0.6,0.8,2.4, 7.4,2.0,0.6,0.4,0.6,1.0,0.6,0.8,1.6,5.3, 1.2,0.6,0.8,5.3,1.4,0.6,0.4,0.6,0.4,0.6, 0.8,0.6,0.8,0.6,1.0];
const pr_p15 = [null,0.1,0,0,0,0,0,0,0,0, 0,0,0.3,1.2,0.4,0.2,0.4,1.0,0.8,0.6, 1.2,2.4,6.0,0.6,0.2,0.4,0.2,0.4,0.6,0.4, 0.8,2.0,0.6,0.2,0.1,0.2,0.4,0.6,0.4,0.2, 0.3,0.2,0.4,0.6,0.4,0.2,0.2,0.4,0.6,0.4, 0.2,0.3,0.4,0.6,0.4,0.6,0.8,0.6,0.4,0.6, 0.8,1.0,1.4,2.0,1.4];
const pr_p16 = [null,0.1,0,0,0,0,0,0,0,0, 0,0,0.4,1.4,0.8,0.4,0.6,1.0,1.2,1.0, 2.0,3.6,9.0,0.8,0.4,0.6,0.4,0.6,0.4,0.6, 0.6,1.4,0.6,0.4,0.2,0.6,1.0,8.6,1.2,0.4, 0.4,0.6,1.0,1.4,1.6,4.0,1.0,0.6,0.8,0.6, 0.4,0.6,0.8,1.0,1.6,3.8,1.2,0.6,0.4,0.6, 0.8,0.6,0.8,0.6,1.0];
const pr_p17 = [null,0.1,0,0,0,0,0,0,0,0, 0,0,0.4,1.4,0.6,0.2,0.6,1.0,0.8,1.0, 1.8,3.0,8.0,0.6,0.2,0.4,0.3,0.4,0.6,0.4, 0.6,1.2,0.4,0.2,0.1,0.2,0.4,0.6,0.4,0.2, 0.3,0.2,0.4,0.6,0.4,0.3,0.4,0.6,0.8,0.6, 0.4,0.6,0.8,0.6,0.4,0.6,0.8,0.6,0.4,0.6, 0.8,0.6,0.8,0.6,0.8];
const pr_p18 = [null,0.1,0,0,0,0,0,0,0,0, 0,0,0.4,1.2,0.6,0.2,0.8,1.4,2.0,2.4, 8.3,3.0,6.0,0.8,0.4,0.6,0.4,0.6,0.8,0.6, 0.6,1.0,0.6,0.2,0.2,0.4,0.6,0.8,4.0,0.6, 0.4,0.2,0.4,0.6,0.4,0.2,0.3,0.6,0.8,0.4, 0.2,0.4,0.6,0.4,0.3,0.6,0.8,0.4,0.3,0.6, 0.8,0.6,0.8,0.6,0.8];
const pr_p19 = [null,0.1,0,0,0,0,0,0,0,0, 0,0,0.6,1.8,0.8,0.4,0.6,1.2,1.6,2.4, 2.8,4.0,7.0,0.8,0.4,0.6,0.4,0.8,1.6,0.8, 0.6,1.4,0.6,0.4,0.6,1.2,4.4,0.8,0.4,0.2, 0.4,0.3,0.6,0.8,0.6,0.4,0.3,0.6,0.8,0.6, 0.4,0.6,0.8,0.6,0.4,0.6,0.8,0.6,0.8,1.6, 2.0,4.0,10.2,2.0,1.0];
const pr_p20 = [null,0.1,0,0,0,0,0,0,0,0, 0,0,0.6,2.2,1.0,1.2,7.0,2.4,1.6,1.2, 2.2,9.0,5.0,0.8,0.4,0.6,0.8,1.4,4.4,1.0, 0.6,1.4,0.6,0.4,0.2,0.4,0.6,0.8,0.6,0.4, 0.6,0.4,0.8,1.2,1.6,0.8,0.6,0.8,1.4,1.2, 0.8,4.4,4.8,1.2,0.6,0.4,0.6,0.8,0.6,0.8, 1.0,0.8,1.0,0.8,1.2];

const t850_pert = [t850_p01,t850_p02,t850_p03,t850_p04,t850_p05,t850_p06,t850_p07,t850_p08,t850_p09,t850_p10,t850_p11,t850_p12,t850_p13,t850_p14,t850_p15,t850_p16,t850_p17,t850_p18,t850_p19,t850_p20];
const t500_pert = [t500_p01,t500_p02,t500_p03,t500_p04,t500_p05,t500_p06,t500_p07,t500_p08,t500_p09,t500_p10,t500_p11,t500_p12,t500_p13,t500_p14,t500_p15,t500_p16,t500_p17,t500_p18,t500_p19,t500_p20];
const pr_pert = [pr_p01,pr_p02,pr_p03,pr_p04,pr_p05,pr_p06,pr_p07,pr_p08,pr_p09,pr_p10,pr_p11,pr_p12,pr_p13,pr_p14,pr_p15,pr_p16,pr_p17,pr_p18,pr_p19,pr_p20];

// ---------- drawing ----------
const svg = d3.select("#c");
const x = d3.scaleLinear().domain([0, 384]).range([50, 690]);
const yL = d3.scaleLinear().domain([-45, 30]).range([545.5, 20.5]);
const yR = d3.scaleLinear().domain([0, 75]).range([545.5, 20.5]);
const dayHours = dayLabels.map((d, k) => 12 + 24 * k);

svg.append("defs").append("clipPath").attr("id", "plot")
  .append("rect").attr("x", 50).attr("y", 0).attr("width", 640).attr("height", 600);

// grid
const grid = svg.append("g").attr("shape-rendering", "crispEdges");
grid.selectAll("line.gh").data(leftTicks.filter(v => v !== 0)).join("line").attr("class", "gh")
  .attr("x1", 50).attr("x2", 690)
  .attr("y1", d => d % 10 === 0 ? yL(d) + 0.5 : yL(d))
  .attr("y2", d => d % 10 === 0 ? yL(d) + 0.5 : yL(d))
  .attr("stroke", "#c0c0c0").attr("stroke-width", d => d % 10 === 0 ? 2 : 1);
grid.selectAll("line.gv").data(dayHours).join("line").attr("class", "gv")
  .attr("x1", d => x(d) + 0.5).attr("x2", d => x(d) + 0.5).attr("y1", 0).attr("y2", 600)
  .attr("stroke", "#c0c0c0").attr("stroke-width", 1);
// separator at 0 °C
grid.append("line").attr("x1", 50).attr("x2", 690).attr("y1", yL(0) - 1).attr("y2", yL(0) - 1)
  .attr("stroke", "#8c8c8c").attr("stroke-width", 1);
grid.append("line").attr("x1", 50).attr("x2", 690).attr("y1", yL(0) + 0.5).attr("y2", yL(0) + 0.5)
  .attr("stroke", "#c0c0c0").attr("stroke-width", 2);

// data
const plot = svg.append("g").attr("clip-path", "url(#plot)");
const lineGen = ys => d3.line().defined(d => d != null).x((d, i) => x(i * stepHours)).y(d => ys(d));

function drawPert(series, ys) {
  series.forEach((arr, k) => {
    const c = pertColors[k];
    plot.append("path").datum(arr).attr("d", lineGen(ys))
      .attr("fill", "none").attr("stroke", c).attr("stroke-width", 1);
    plot.append("g").selectAll("rect").data(arr.map((v, i) => [i, v]).filter(p => p[1] != null)).join("rect")
      .attr("x", p => x(p[0] * stepHours) - 1).attr("y", p => ys(p[1]) - 1)
      .attr("width", 2.2).attr("height", 2.2).attr("fill", c);
  });
}
function drawMain(arr, ys, color, w) {
  plot.append("path").datum(arr).attr("d", lineGen(ys))
    .attr("fill", "none").attr("stroke", color).attr("stroke-width", w)
    .attr("stroke-linejoin", "round").attr("stroke-linecap", "round");
}
// precipitation: control/GFS under the perturbations' band, mean on top
drawMain(pr_ctrl, yR, "#0000ff", 3);
drawPert(pr_pert, yR);
drawMain(pr_gfs, yR, "#000000", 3);
drawPert(t500_pert, yL);
drawPert(t850_pert, yL);

[[t500_gfs, yL], [t850_gfs, yL]].forEach(s => drawMain(s[0], s[1], "#000000", 3));
[[t500_ctrl, yL], [t850_ctrl, yL]].forEach(s => drawMain(s[0], s[1], "#0000ff", 3));
[[pr_mean, yR], [t500_mean, yL], [t850_mean, yL]].forEach(s => drawMain(s[0], s[1], "#ff0000", 4.5));

// frame
const frame = svg.append("g").attr("shape-rendering", "crispEdges");
frame.append("line").attr("x1", 50.5).attr("x2", 50.5).attr("y1", 0).attr("y2", 601).attr("stroke", "#000");
frame.append("line").attr("x1", 690.5).attr("x2", 690.5).attr("y1", 0).attr("y2", 601).attr("stroke", "#000");
frame.append("line").attr("x1", 50).attr("x2", 691).attr("y1", 600.5).attr("y2", 600.5).attr("stroke", "#000");

// axes labels
const mono = "'DejaVu Sans Mono','Liberation Mono',monospace";
const axL = svg.append("g").attr("transform", "translate(50,0)")
  .call(d3.axisLeft(yL).tickValues(leftTicks).tickSize(0).tickPadding(18).tickFormat(d3.format("d")));
axL.select(".domain").remove();
axL.attr("font-family", mono).attr("font-size", 10);
axL.selectAll("text").attr("dy", "0.62em").attr("fill", "#000");
const axR = svg.append("g").attr("transform", "translate(690,0)")
  .call(d3.axisRight(yR).tickValues(rightTicks).tickSize(0).tickPadding(20).tickFormat(d3.format("d")));
axR.select(".domain").remove();
axR.attr("font-family", mono).attr("font-size", 10);
axR.selectAll("text").attr("dy", "0.62em").attr("fill", "#000");

svg.append("g").selectAll("text").data(dayLabels).join("text")
  .attr("transform", (d, k) => `translate(${x(dayHours[k]) + 10.5},628.5) rotate(-90)`)
  .style("font-size", "9px").text(d => d);

svg.append("text").attr("x", 20).attr("y", 609).text("(°C)");
svg.append("text").attr("x", 710).attr("y", 609).text("(mm)");

svg.append("text").attr("x", 60).attr("y", 139.3).text("Temp. 850hPa");
svg.append("text").attr("x", 60).attr("y", 301).text("Temp. 500hPa");
svg.append("text").attr("x", 60).attr("y", 538.5).text("Précipitations");

// legend
svg.append("rect").attr("x", 35).attr("y", 630).attr("width", 31).attr("height", 3.5).attr("fill", "#ff0000");
svg.append("text").attr("x", 75).attr("y", 641).text("Moyenne des scénarios");
svg.append("rect").attr("x", 225).attr("y", 636).attr("width", 30).attr("height", 3.3).attr("fill", "#0000ff");
svg.append("text").attr("x", 265).attr("y", 641).text("Run de contrôle");
svg.append("rect").attr("x", 225).attr("y", 645.3).attr("width", 30).attr("height", 3).attr("fill", "#000");
svg.append("text").attr("x", 265).attr("y", 651).text("Run GFS");
svg.append("text").attr("x", 60).attr("y", 662.5).attr("text-anchor", "middle")
  .style("font-family", "'DejaVu Sans',sans-serif").style("font-size", "11px").style("fill", "#4aa8f0").text("❄");
svg.append("text").attr("x", 75).attr("y", 663.3).text("Risque neige (par rapport a tous les scénarios)");

svg.append("text").attr("x", 369).attr("y", 655).text("20 Perturbations");
const sw = svg.append("g");
sw.selectAll("rect").data(pertColors).join("rect")
  .attr("x", (d, k) => 470 + 11 * k).attr("y", 649.8).attr("width", 10).attr("height", 5.6).attr("fill", d => d);
sw.selectAll("text").data(pertLabels).join("text")
  .attr("x", (d, k) => 475 + 11 * k).attr("y", 646.5).attr("text-anchor", "middle")
  .style("font-size", "7.5px").text(d => d);

// bottom box
svg.append("rect").attr("x", 20.5).attr("y", 667.5).attr("width", 419.5).attr("height", 31.5)
  .attr("fill", "none").attr("stroke", "#000").attr("shape-rendering", "crispEdges");
svg.append("text").attr("x", 30).attr("y", 681.5).style("font-weight", "bold").style("font-size", "10.5px")
  .attr("textLength", 348).attr("lengthAdjust", "spacing")
  .text("Diagramme des ensembles GEFS sur 384h : 52.1N 5.2E");
svg.append("text").attr("x", 30).attr("y", 695).attr("textLength", 338).attr("lengthAdjust", "spacing")
  .text("Températures 850hPa et 500hPa (°C) , précipitations (mm)");
svg.append("text").attr("x", 450).attr("y", 675).attr("textLength", 197).attr("lengthAdjust", "spacing")
  .text("Ensemble GEFS du 10/08/2012 - 12h");
svg.append("text").attr("x", 450).attr("y", 693.8).style("font-weight", "bold").style("font-size", "10.5px")
  .attr("textLength", 187).attr("lengthAdjust", "spacing")
  .text("Copyright 2012 Meteociel.fr");
</script>
</body></html>
